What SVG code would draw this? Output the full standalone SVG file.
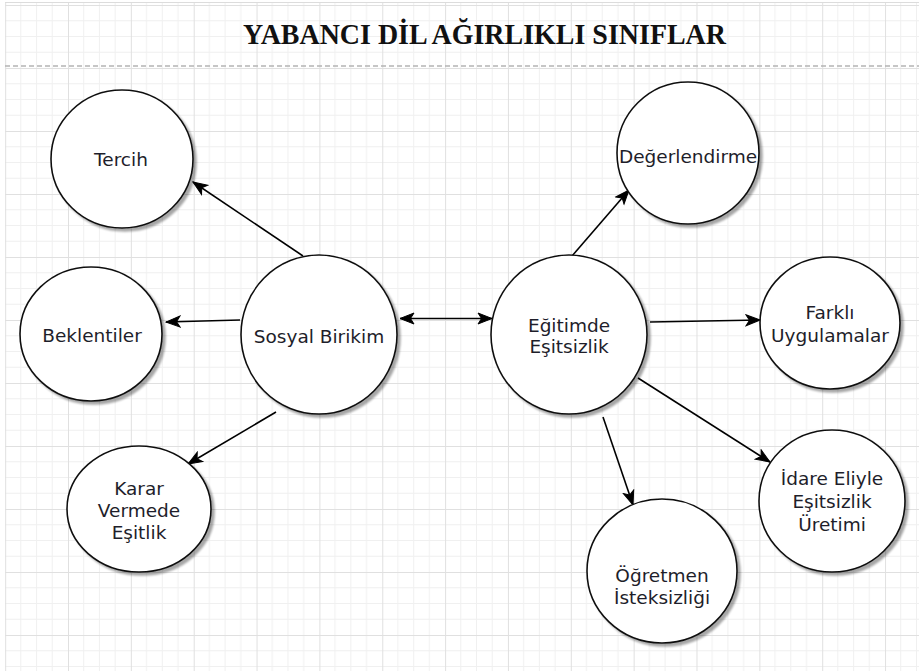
<svg xmlns="http://www.w3.org/2000/svg" width="919" height="671" viewBox="0 0 919 671">
<defs>
<pattern id="grid" patternUnits="userSpaceOnUse" x="5.15" y="5" width="62.85" height="63">
<path d="M15.71,0V63M31.42,0V63M47.13,0V63M0,15.75H62.85M0,31.5H62.85M0,47.25H62.85" stroke="#f0f0f0" stroke-width="1" fill="none"/>
<path d="M0.5,0V63M0,0.5H62.85" stroke="#e0e0e0" stroke-width="1" fill="none"/>
</pattern>
<marker id="arr" markerUnits="userSpaceOnUse" markerWidth="16" markerHeight="14" viewBox="0 0 16 14" refX="15" refY="7" orient="auto-start-reverse">
<path d="M1,1.5 L15,7 L1,12.5 L4.5,7 Z" fill="#000" stroke="#000" stroke-width="1" stroke-linejoin="miter"/>
</marker>
<filter id="sh" x="-10%" y="-10%" width="130%" height="130%">
<feGaussianBlur in="SourceAlpha" stdDeviation="1.2"/>
<feOffset dx="3" dy="3" result="b"/>
<feComponentTransfer><feFuncA type="linear" slope="0.35"/></feComponentTransfer>
<feMerge><feMergeNode/><feMergeNode in="SourceGraphic"/></feMerge>
</filter>
</defs>
<style>
.node ellipse{fill:#fff;stroke:#111;stroke-width:1.6;filter:url(#sh)}
.node text{font-family:"DejaVu Sans",Verdana,sans-serif;font-size:18.5px;fill:#1e1e2a;text-anchor:middle}
.edge{stroke:#000;stroke-width:1.6;fill:none;marker-end:url(#arr)}
.title{font-family:"Liberation Serif","Times New Roman",serif;font-weight:bold;font-size:29px;fill:#111;text-anchor:middle}
</style>
<rect width="919" height="671" fill="#fff"/>
<rect x="5" y="2" width="914" height="669" fill="url(#grid)"/>
<line x1="5" y1="2.5" x2="919" y2="2.5" stroke="#dcdcdc" stroke-width="1"/>
<line x1="5" y1="66" x2="919" y2="66" stroke="#b4b4b4" stroke-width="1.5" stroke-dasharray="5,3"/>
<text class="title" x="484.5" y="44" textLength="483" lengthAdjust="spacingAndGlyphs">YABANCI DİL AĞIRLIKLI SINIFLAR</text>

<g id="connectors">
<line class="edge" x1="303" y1="256" x2="193" y2="182"/>
<line class="edge" x1="240" y1="320" x2="166" y2="322"/>
<line class="edge" x1="276" y1="412" x2="188" y2="464"/>
<line class="edge" x1="400" y1="318.5" x2="492" y2="318.5" style="marker-start:url(#arr)"/>
<line class="edge" x1="572" y1="256" x2="629" y2="190"/>
<line class="edge" x1="650" y1="322" x2="760" y2="320"/>
<line class="edge" x1="638" y1="378" x2="770" y2="462"/>
<line class="edge" x1="603" y1="417" x2="633" y2="505"/>
</g>

<g id="n-tercih" class="node"><ellipse cx="122" cy="159" rx="71" ry="69"/><text x="121" y="166">Tercih</text></g>
<g id="n-beklentiler" class="node"><ellipse cx="91" cy="334" rx="71" ry="67"/><text x="92" y="342">Beklentiler</text></g>
<g id="n-karar" class="node"><ellipse cx="139" cy="509" rx="72" ry="63"/><text x="139" y="495">Karar</text><text x="139" y="517">Vermede</text><text x="139" y="539">Eşitlik</text></g>
<g id="n-sosyal" class="node"><ellipse cx="319" cy="334.5" rx="78" ry="79.5"/><text x="319" y="343">Sosyal Birikim</text></g>
<g id="n-egitimde" class="node"><ellipse cx="569" cy="334.5" rx="78" ry="79.5"/><text x="569" y="332">Eğitimde</text><text x="569" y="353">Eşitsizlik</text></g>
<g id="n-degerlendirme" class="node"><ellipse cx="688" cy="153" rx="71" ry="71"/><text x="688" y="163">Değerlendirme</text></g>
<g id="n-farkli" class="node"><ellipse cx="830" cy="323" rx="70" ry="66"/><text x="830" y="319">Farklı</text><text x="830" y="342">Uygulamalar</text></g>
<g id="n-idare" class="node"><ellipse cx="832" cy="501" rx="73" ry="71"/><text x="832" y="485">İdare Eliyle</text><text x="832" y="508">Eşitsizlik</text><text x="832" y="531">Üretimi</text></g>
<g id="n-ogretmen" class="node"><ellipse cx="662" cy="571" rx="75" ry="72"/><text x="662" y="582">Öğretmen</text><text x="662" y="604">İsteksizliği</text></g>
</svg>
